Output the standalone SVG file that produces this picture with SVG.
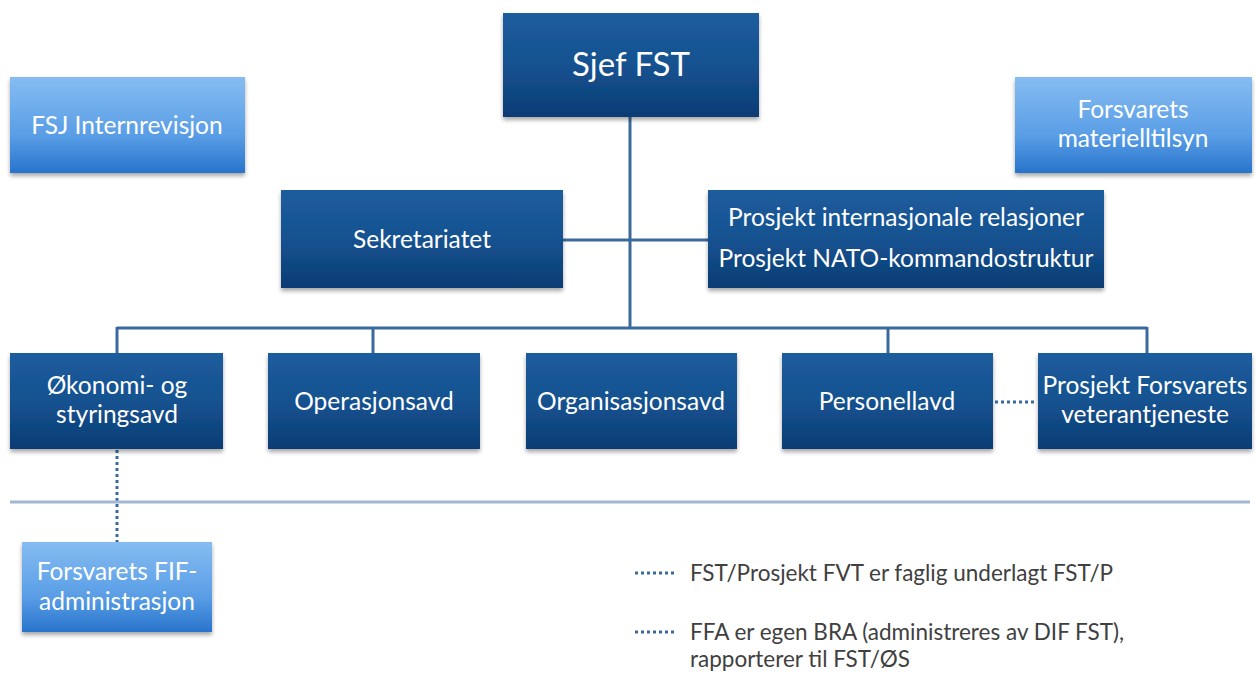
<svg xmlns="http://www.w3.org/2000/svg" width="1256" height="676" viewBox="0 0 1256 676">
<defs>
<linearGradient id="dark" x1="0" y1="0" x2="0" y2="1">
<stop offset="0" stop-color="#1d5d9e"/>
<stop offset="0.55" stop-color="#15508e"/>
<stop offset="1" stop-color="#0a3c74"/>
</linearGradient>
<linearGradient id="light" x1="0" y1="0" x2="0" y2="1">
<stop offset="0" stop-color="#86bcf2"/>
<stop offset="0.6" stop-color="#5a9ee6"/>
<stop offset="1" stop-color="#2874cc"/>
</linearGradient>
<filter id="sh" x="-10%" y="-10%" width="120%" height="130%">
<feGaussianBlur in="SourceAlpha" stdDeviation="2"/>
<feOffset dx="0" dy="3" result="b"/>
<feComponentTransfer><feFuncA type="linear" slope="0.35"/></feComponentTransfer>
<feMerge><feMergeNode/><feMergeNode in="SourceGraphic"/></feMerge>
</filter>
</defs>
<style>
.d{fill:url(#dark);filter:url(#sh)}
.l{fill:url(#light);filter:url(#sh)}
.t{font-family:Lato,"Open Sans","Liberation Sans",sans-serif;fill:#fff;font-size:24.5px;text-anchor:middle}
.big{font-size:33px}
.ln{stroke:#3a6a9c;stroke-width:3;fill:none}
.dot{stroke:#3a6a9c;stroke-width:3;stroke-dasharray:3 3;fill:none}
.leg{font-family:Lato,"Open Sans","Liberation Sans",sans-serif;fill:#404040;font-size:22.5px}
</style>
<rect width="1256" height="676" fill="#fff"/>
<g id="connectors">
<line class="ln" x1="630" y1="117" x2="630" y2="328"/>
<line class="ln" x1="563" y1="240" x2="708" y2="240"/>
<line class="ln" x1="117" y1="328" x2="1147" y2="328"/>
<line class="ln" x1="117" y1="327" x2="117" y2="353"/>
<line class="ln" x1="373" y1="327" x2="373" y2="353"/>
<line class="ln" x1="888" y1="327" x2="888" y2="353"/>
<line class="ln" x1="1147" y1="327" x2="1147" y2="353"/>
<line class="dot" x1="995" y1="402" x2="1037" y2="402"/>
<line class="dot" x1="117" y1="450" x2="117" y2="542"/>
<line x1="10" y1="502" x2="1250" y2="502" stroke="#a3b8d0" stroke-width="3"/>
</g>
<g id="sjef"><rect class="d" x="503" y="13" width="256" height="104"/><text class="t big" x="631" y="76">Sjef FST</text></g>
<g id="internrevisjon"><rect class="l" x="10" y="77" width="235" height="96"/><text class="t" x="127" y="134">FSJ Internrevisjon</text></g>
<g id="materielltilsyn"><rect class="l" x="1015" y="77" width="237" height="96"/><text class="t" x="1133" y="118">Forsvarets</text><text class="t" x="1133" y="147">materielltilsyn</text></g>
<g id="sekretariatet"><rect class="d" x="281" y="190" width="282" height="98"/><text class="t" x="422" y="248">Sekretariatet</text></g>
<g id="prosjekt"><rect class="d" x="708" y="190" width="396" height="98"/><text class="t" x="906" y="226">Prosjekt internasjonale relasjoner</text><text class="t" x="906" y="267">Prosjekt NATO-kommandostruktur</text></g>
<g id="okonomi"><rect class="d" x="10" y="353" width="213" height="96"/><text class="t" x="117" y="394">Økonomi- og</text><text class="t" x="117" y="423">styringsavd</text></g>
<g id="operasjonsavd"><rect class="d" x="268" y="353" width="212" height="96"/><text class="t" x="374" y="410">Operasjonsavd</text></g>
<g id="organisasjonsavd"><rect class="d" x="526" y="353" width="211" height="96"/><text class="t" x="631" y="410">Organisasjonsavd</text></g>
<g id="personellavd"><rect class="d" x="782" y="353" width="211" height="96"/><text class="t" x="887" y="410">Personellavd</text></g>
<g id="veteran"><rect class="d" x="1038" y="353" width="214" height="96"/><text class="t" x="1145" y="394">Prosjekt Forsvarets</text><text class="t" x="1145" y="423">veterantjeneste</text></g>
<g id="fif"><rect class="l" x="22" y="542" width="190" height="90"/><text class="t" x="117" y="580">Forsvarets FIF-</text><text class="t" x="117" y="610">administrasjon</text></g>
<g id="legend">
<line class="dot" x1="635" y1="573" x2="677" y2="573" stroke-width="2" stroke-dasharray="2 2.5"/>
<text class="leg" x="690" y="581">FST/Prosjekt FVT er faglig underlagt FST/P</text>
<line class="dot" x1="635" y1="632" x2="677" y2="632" stroke-width="2" stroke-dasharray="2 2.5"/>
<text class="leg" x="690" y="640">FFA er egen BRA (administreres av DIF FST),</text>
<text class="leg" x="690" y="667">rapporterer til FST/ØS</text>
</g>
</svg>
